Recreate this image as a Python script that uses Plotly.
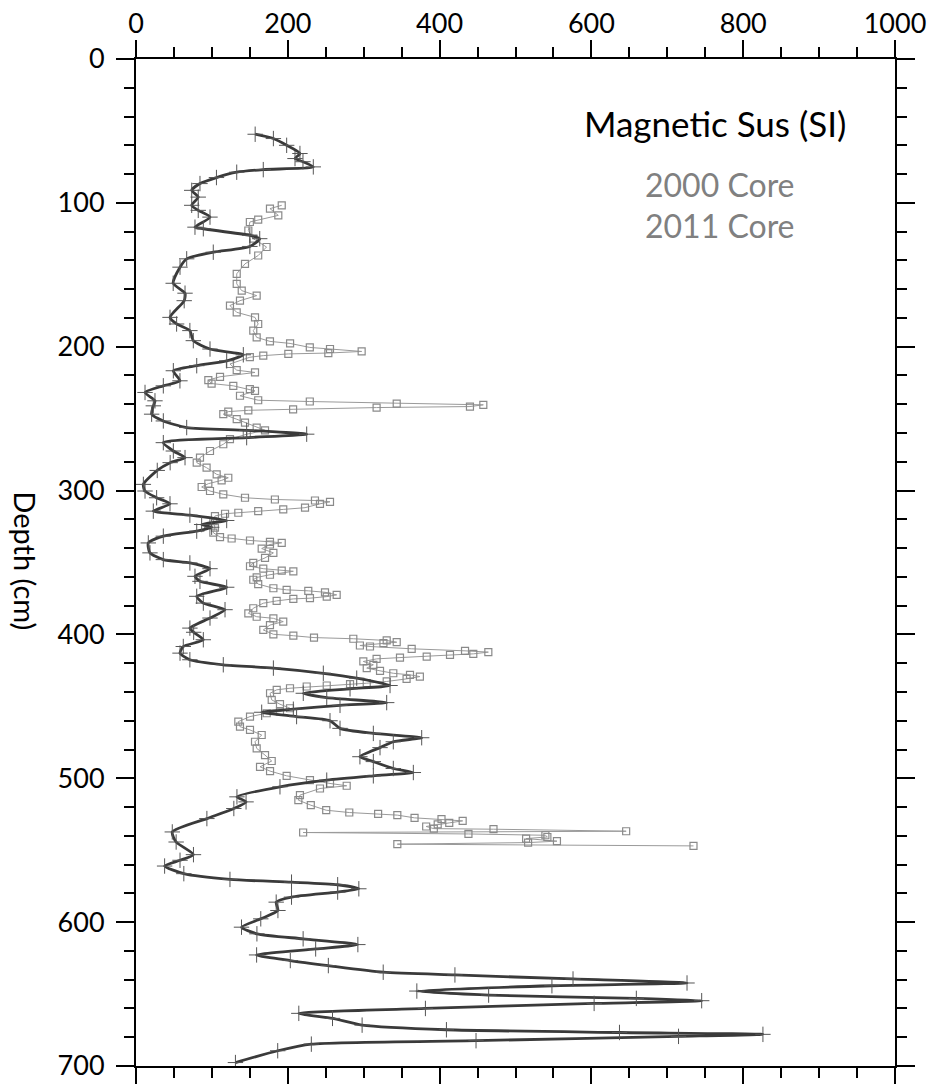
import plotly.graph_objects as go

# 2000 Core (dark series): depth (cm) and magnetic susceptibility (SI)
core2000_depth = [52.3, 55.3, 60, 65.7, 69.2, 71.4, 75, 76.9, 78.7, 82.4, 86.6, 91.3, 96, 101.7, 105.2,
                  109.9, 116.9, 118, 122.6, 124.9, 130.3, 134.3, 138.9, 144.7, 155.9, 162.8, 168, 179.6,
                  184.2, 188.8, 195.8, 201.6, 205.6, 209.8, 213.2, 216.7, 223.7, 227.2, 231.8, 237.6, 241.1,
                  246.9, 251.6, 256.2, 258.1, 260.8, 263.2, 266.7, 272.5, 277.1, 280.6, 286, 295.7, 300.3,
                  305, 309.2, 314.3, 317.1, 320.8, 323.6, 325.5, 328.2, 331.7, 336.4, 343.3, 348, 350.3,
                  354.3, 359.6, 363.1, 367.2, 373.5, 378.2, 382.8, 388.6, 395.6, 398.5, 403.7, 408.4, 413,
                  417.6, 421.1, 423.4, 427, 430.4, 435.5, 437.8, 440.9, 443.9, 447.4, 449.3, 452, 454.1,
                  457.1, 460, 465.3, 468.8, 471.8, 474.6, 478.7, 485, 488.4, 493.2, 496, 498.3, 501.3,
                  505.9, 512.9, 516.4, 521, 528, 537.3, 544.3, 553.1, 557, 561, 566.3, 570.3, 572.2, 574,
                  576.8, 579.1, 582.6, 586.1, 591.9, 597.7, 603.5, 608.1, 611.6, 615.6, 618.6, 622.8,
                  626.7, 630.2, 634.8, 636.7, 639.5, 642.3, 644.2, 647.9, 650.7, 653, 654.6, 656.5, 660,
                  663.4, 666.9, 671.6, 674.8, 676.7, 678, 679.4, 682.4, 684.8, 689.4, 697.6]
core2000_sus = [157, 181, 198.5, 216, 209.5, 220, 233.6, 167.7, 132.7, 106, 84.3, 73.4, 82, 73.4, 82,
                97.5, 77.7, 88.7, 150, 163, 150, 101.8, 66.8, 58, 49, 64.6, 63.5, 44.8,
                53.5, 71, 75.5, 97.5, 141.4, 119.5, 80, 49.2, 57.9, 36, 11.9, 25, 22.8,
                20.6, 36, 66.8, 145.8, 224.9, 145.8, 36, 49.2, 64.6, 45, 28, 9.7, 11.9,
                27.2, 44.8, 22.8, 71, 119.5, 86.5, 99.7, 80, 36, 16.2, 18.4, 36, 71,
                97.5, 77.7, 84.3, 119.5, 80, 88.7, 117.3, 97.5, 71, 76, 88.7, 62.3, 58,
                71, 115, 181, 246.8, 290.8, 334.7, 282, 220.4, 251.3, 330.3, 268.8, 207.3, 165.6,
                211.6, 255.6, 268.8, 312.7, 376.4, 339, 321.5, 295, 312.7, 339, 365.4, 312.7, 251.3,
                189.7, 133, 145, 128.9, 93.4, 47.8, 52.9, 75.7, 58, 37.7, 63, 123.8, 204.9, 265.7,
                293.6, 265.7, 204.9, 184.7, 187, 164.4, 139, 159.3, 220.2, 292.3, 236.7, 158.9,
                203.3, 253.4, 325.7, 420.2, 575.8, 726, 548, 370, 464.6, 659.2, 745.3, 603.6, 381.3,
                214.5, 258.9, 297.9, 409, 637, 826, 714.8, 448, 231, 186.7, 131]

# 2011 Core (gray series)
core2011_depth = [101.7, 104, 108.7, 111.7, 113.3, 119.2, 124.9, 130.7, 136.6, 142.4, 149.3, 156.3, 161,
                  164.5, 168, 171.4, 176.1, 179.6, 184.2, 188.8, 193.5, 196.3, 197.7, 200.5, 201.6, 203.3,
                  204.4, 205, 206.2, 207.3, 212, 216.3, 217.9, 220.9, 223.2, 225.6, 227.2, 229.5, 230.7,
                  234.1, 237.2, 238.1, 239.5, 240.4, 241.6, 242.3, 243.5, 244.2, 245.1, 246.9, 250.4,
                  252.7, 256.2, 258.1, 260.8, 264.3, 267.8, 272.5, 277.1, 280.6, 284.1, 288.7, 291.1,
                  292.9, 295.2, 297.5, 300.3, 302.6, 305, 306.2, 306.9, 307.8, 309.2, 311.9, 313.1, 314.3,
                  315.4, 316.1, 317.7, 321.2, 325.8, 329.3, 332.3, 333.3, 334.7, 335.6, 336.3, 337.5,
                  340.3, 343.3, 346.8, 350.3, 352.6, 354.3, 355.7, 356.1, 358.5, 360.4, 362, 365, 367.9,
                  369, 369.7, 370.7, 372.5, 373.7, 374.8, 375.3, 376.7, 378.3, 381.8, 385.3, 387.7, 388.8,
                  391.1, 393.5, 396.9, 399.9, 400.9, 402.2, 403, 404.2, 405.4, 406.1, 407.7, 408.4, 410,
                  411.4, 412.3, 413.5, 414.2, 415.4, 416.1, 417, 418.8, 421.1, 423.4, 425.3, 427, 428.1,
                  429.3, 430.9, 432.7, 433.9, 434.6, 435.5, 436.2, 437.4, 438.5, 440.9, 445.5, 448.5,
                  451.3, 453.6, 454.8, 457.1, 460.6, 464.1, 466.4, 469.9, 474.6, 479.2, 483.9, 488, 492,
                  495, 498.3, 501.3, 503.6, 505.2, 507.1, 511.7, 515.2, 518.7, 522.2, 523.8, 524.7, 525.6,
                  527.5, 528.4, 529.6, 531, 532.1, 533.5, 535, 535.4, 536.8, 537.7, 538.7, 539.6, 540.8,
                  541.9, 543.7, 544.7, 545.8, 547]
core2011_sus = [192, 176.5, 187.5, 161, 150, 148, 154.5, 172, 161, 143.6, 132.7, 132.7, 139.3,
                159, 137, 123.8, 132.7, 156.8, 161, 154.5, 159, 176.5, 203, 229, 255.6, 297.3,
                253.4, 200.7, 167.7, 150, 123.8, 132.7, 156.8, 110.7, 95.3, 99.6, 128.2, 150, 156.8,
                137, 161, 229, 343.5, 457.6, 440, 317, 207, 148, 121.6, 115, 132.7,
                143.6, 159, 170, 146, 123.8, 115, 97.5, 84.3, 80, 93, 106.3, 121.6,
                112.8, 95.3, 86.5, 97.5, 115, 143.6, 183, 235.8, 255.6, 242.4, 222.7, 194, 161,
                134.8, 117.3, 104, 101.9, 104, 101.9, 110.7, 126, 150.2, 176.5, 192, 176.5,
                165.6, 181, 170, 154.5, 150.2, 167.7, 192, 207.3, 176.5, 159, 154.5, 161, 181,
                198.5, 227, 249, 264.4, 251.3, 229.2, 207.3, 185.3, 167.7, 154.5, 148, 159, 181,
                194, 176.5, 167.7, 181, 207.3, 234.5, 286.3, 330.3, 343.5, 326, 295, 308.3, 363.2,
                433.5, 464.2, 444.4, 413.7, 383, 347.8, 317, 299.5, 312.7, 304, 321.5, 339, 361,
                374, 356.5, 330.3, 304, 282, 251.3, 224.9, 202.9, 185.4, 176.6, 178.8, 189.7,
                202.9, 189.7, 172.2, 150.2, 134.8, 137, 150.2, 165.6, 156.8, 159, 170, 178.8, 163.4,
                176.6, 198.5, 229.2, 255.6, 277.6, 242.4, 216, 213.9, 230.3, 250.6, 281, 319, 344.3,
                367, 402.5, 430.4, 412.7, 397.5, 382.3, 392.4, 471, 645.8, 220.2, 438, 539.4, 542,
                514, 554.6, 516.6, 344.3, 734.5]

x_ticks = [0, 200, 400, 600, 800, 1000]
y_ticks = [0, 100, 200, 300, 400, 500, 600, 700]

FONT = "Lato"

fig = go.Figure()

fig.add_trace(go.Scatter(
    x=core2011_sus, y=core2011_depth, mode="lines+markers", name="2011 Core",
    line=dict(color="#9a9a9a", width=1),
    marker=dict(symbol="square-open", size=7, color="#8a8a8a", line=dict(width=1.2)),
))
fig.add_trace(go.Scatter(
    x=core2000_sus, y=core2000_depth, mode="lines+markers", name="2000 Core",
    line=dict(color="#3a3a3a", width=2.8, shape="spline", smoothing=0.6),
    marker=dict(symbol="cross-thin", size=11, color="#555555", line=dict(width=1, color="#555555")),
))

axis_common = dict(
    showline=True, linewidth=2, linecolor="black", mirror="ticks",
    ticks="outside", tickwidth=2, tickcolor="black",
    showgrid=False, zeroline=False, automargin=False,
    tickfont=dict(family=FONT, size=27, color="black"),
)

fig.update_xaxes(
    side="top", range=[0, 1000], tickvals=x_ticks, ticklen=17, ticklabelstandoff=-4,
    minor=dict(dtick=50, ticklen=10, tickwidth=2, ticks="outside", tickcolor="black", showgrid=False),
    **axis_common,
)
fig.update_yaxes(
    range=[700, 0], tickvals=y_ticks, ticklen=18, ticklabelstandoff=6,
    minor=dict(dtick=20, ticklen=10, tickwidth=2, ticks="outside", tickcolor="black", showgrid=False),
    **axis_common,
)

ann = dict(xref="paper", yref="paper", showarrow=False, xanchor="center", yanchor="middle")
fig.add_annotation(text="Magnetic Sus (SI)", x=0.763, y=0.936,
                   font=dict(family=FONT, size=35, color="black"), **ann)
fig.add_annotation(text="2000 Core", x=0.769, y=0.875,
                   font=dict(family=FONT, size=32, color="#808080"), **ann)
fig.add_annotation(text="2011 Core", x=0.769, y=0.835,
                   font=dict(family=FONT, size=32, color="#808080"), **ann)
fig.add_annotation(text="Depth (cm)", x=-0.146, y=0.502, textangle=90,
                   font=dict(family=FONT, size=29, color="black"), **ann)

fig.update_layout(
    width=930, height=1084,
    margin=dict(l=136, r=35, t=59, b=18),
    paper_bgcolor="white", plot_bgcolor="white",
    showlegend=False,
)

fig.write_html("out.html", config={"displayModeBar": False},
               post_script="document.body.style.margin='0';document.body.style.overflow='hidden';")
